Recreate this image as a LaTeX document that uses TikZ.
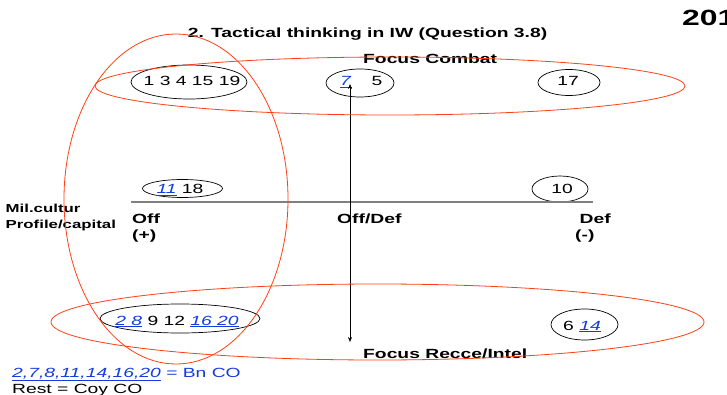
\documentclass[tikz,border=0pt]{standalone}
\usepackage{fontspec}
\setmainfont[FakeStretch=1.45]{Liberation Sans}
\usetikzlibrary{shapes.geometric,arrows.meta}
\definecolor{redc}{RGB}{255,64,20}
\definecolor{bluec}{RGB}{20,60,220}
\definecolor{axisgray}{RGB}{128,128,128}
\newcommand\bnum[1]{\textcolor{bluec}{\underline{\textit{#1}}}}
\tikzset{
  redoval/.style={ellipse, draw=redc, line width=0.8pt, inner sep=0pt},
  oval/.style={ellipse, draw=black, line width=0.7pt, inner sep=0pt},
  lbl/.style={inner sep=0pt, font=\fontsize{13.3}{16}\selectfont\bfseries},
  small/.style={inner sep=0pt, font=\fontsize{11.6}{14}\selectfont\bfseries},
  num/.style={inner sep=0pt, font=\fontsize{13.3}{16}\selectfont},
  big/.style={inner sep=0pt, font=\fontsize{22}{26}\selectfont\bfseries},
}
\begin{document}
\begin{tikzpicture}[x=1pt,y=-1pt]
\useasboundingbox (0,0) rectangle (727,395);
\clip (0,0) rectangle (727,395);
\fill[white] (0,0) rectangle (727,395);

% year (cut off at the right edge, as in the reference)
\node[big, anchor=base west] (year) at (682,26) {201};
% title
\node[lbl, anchor=base] (title) at (367.5,38) {2. Tactical thinking in IW (Question 3.8)};
\node[lbl, anchor=base west] (fcombat) at (363,64) {Focus Combat};

% black ovals
\node[oval, minimum width=116, minimum height=34] (o1) at (189,82) {};
\node[oval, minimum width=68, minimum height=28] (o2) at (360,83) {};
\node[oval, minimum width=62, minimum height=26] (o3) at (569,82.5) {};
\node[oval, minimum width=80, minimum height=18] (o4) at (182.5,188.5) {};
\node[oval, minimum width=56, minimum height=26] (o5) at (560,189) {};
\node[oval, minimum width=160, minimum height=29] (o6) at (180,318.5) {};
\node[oval, minimum width=67, minimum height=31] (o7) at (584.5,324.5) {};

% numbers
\node[num, anchor=base] (t1) at (192,86) {1 3 4 15 19};
\node[num, anchor=base west] (t2) at (340,86) {\bnum{7}\hspace{20pt}5};
\node[num, anchor=base] (t3) at (568,86) {17};
\node[num, anchor=base] (t4) at (180,194) {\bnum{11} 18};
\node[num, anchor=base] (t5) at (562,194) {10};
\node[num, anchor=base] (t6) at (177,325) {\bnum{2 8} 9 12 \bnum{16 20}};
\node[num, anchor=base] (t7) at (582,330) {6 \bnum{14}};

% axis
\coordinate (axl) at (131,202);
\coordinate (axr) at (593,202);
\draw[axisgray, line width=1.2pt] (axl) -- (axr);

% axis labels
\node[small, anchor=base west] (mil1) at (5.5,212.7) {Mil.cultur};
\node[small, anchor=base west] (mil2) at (5.5,228.3) {Profile/capital};
\node[lbl, anchor=base west] (off) at (132,223) {Off};
\node[lbl, anchor=base west] (plus) at (132,240) {(+)};
\node[lbl, anchor=base west] (offdef) at (337,223) {Off/Def};
\node[lbl, anchor=base west] (def) at (579.5,223) {Def};
\node[lbl, anchor=base west] (minus) at (575,240) {(-)};

\node[lbl, anchor=base west] (frecce) at (363,358) {Focus Recce/Intel};

% vertical arrow
\coordinate (atop) at (350,84);
\coordinate (abot) at (350,342);
\draw[line width=0.7pt, {Stealth[length=5pt,width=4pt]}-{Stealth[length=5pt,width=4pt]}] (atop) -- (abot);

% red ovals
\node[redoval, minimum width=590, minimum height=58] (rtop) at (390,86) {};
\node[redoval, minimum width=224, minimum height=330] (rleft) at (176,199) {};
\node[redoval, minimum width=653, minimum height=76] (rbot) at (377.5,322) {};

% legend
\node[num, anchor=base west] (leg1) at (12,377) {\bnum{2,7,8,11,14,16,20} \textcolor{bluec}{= Bn CO}};
\node[num, anchor=base west] (leg2) at (12,393) {Rest = Coy CO};
\end{tikzpicture}
\end{document}
